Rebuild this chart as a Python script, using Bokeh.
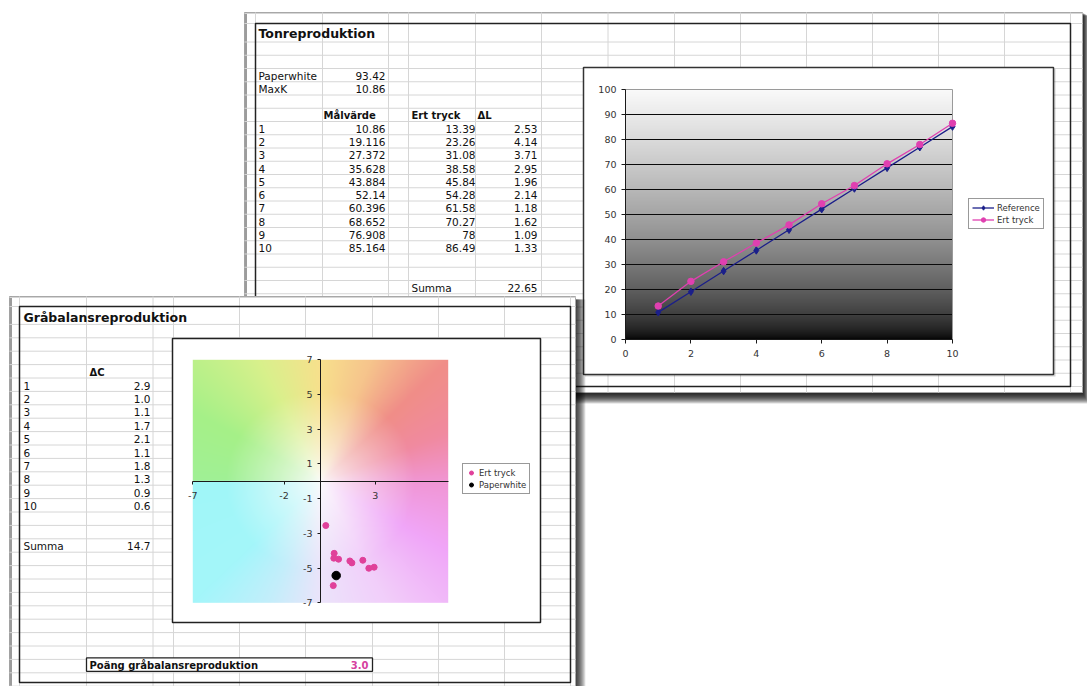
import numpy as np
from bokeh.plotting import figure
from bokeh.models import (Range1d, LinearAxis, FixedTicker, Legend, LegendItem,
                          ColumnDataSource, PrintfTickFormatter)
from bokeh.core.properties import value
from bokeh.embed import file_html
from bokeh.resources import INLINE

W, H = 1087, 686
FONT = "DejaVu Sans"

# ---------------- data ----------------
tone_steps = [1, 2, 3, 4, 5, 6, 7, 8, 9, 10]
malvarde = [10.86, 19.116, 27.372, 35.628, 43.884, 52.14, 60.396, 68.652, 76.908, 85.164]
ert_tryck = [13.39, 23.26, 31.08, 38.58, 45.84, 54.28, 61.58, 70.27, 78, 86.49]
delta_l = [2.53, 4.14, 3.71, 2.95, 1.96, 2.14, 1.18, 1.62, 1.09, 1.33]
paperwhite_l = 93.42
max_k = 10.86
summa_delta_l = 22.65

delta_c = [2.9, 1.0, 1.1, 1.7, 2.1, 1.1, 1.8, 1.3, 0.9, 0.6]
summa_delta_c = 14.7
poang_gra = 3.0

# a*/b* of the printed grey steps and of the paper
ert_a = [0.29, 0.73, 1.61, 2.32, 2.94, 1.72, 2.65, 0.75, 0.99, 0.70]
ert_b = [-2.55, -4.43, -4.59, -4.55, -4.95, -4.70, -5.01, -4.15, -4.49, -6.01]
paper_a = [0.86]
paper_b = [-5.43]

tone_x_ticks = [0, 2, 4, 6, 8, 10]
tone_y_ticks = [0, 10, 20, 30, 40, 50, 60, 70, 80, 90, 100]
gray_x_ticks = [-7, -2, 3]
gray_y_ticks = [-7, -5, -3, -1, 1, 3, 5, 7]

# ---------------- page geometry (pixels, y downward) ----------------
TONE_SHEET = (244, 1082, 12, 392)
TONE_BORDER = (255, 1070, 23, 386)
TONE_COLS = [255, 322, 388, 408, 475, 541, 607.5, 674, 740, 806, 872, 938, 1004, 1070]
TONE_ROW0, TONE_RH = 121.0, 13.25
TONE_BOX = (583, 1053, 67, 374)
TONE_PX = (625, 952)      # x pixels of x = 0 and x = 10
TONE_PY = (339, 89)       # y pixels of y = 0 and y = 100

GRAY_SHEET = (9, 575, 296, 690)
GRAY_BORDER = (19, 570, 306, 682)
GRAY_COLS = [19, 86, 152.5, 173, 239, 305, 372, 438, 504, 570]
GRAY_ROW0, GRAY_RH = 377.5, 13.4
GRAY_BOX = (172, 540, 338, 622)
GRAY_PX = (192.3, 447.7)  # x pixels of a = -7 and a = 7
GRAY_PY = (602.3, 359.3)  # y pixels of b = -7 and b = 7


def x_range_for(p0, p1, d0, d1):
    k = (d1 - d0) / (p1 - p0)
    return Range1d(start=d0 - p0 * k, end=d0 + (W - p0) * k)


def y_range_for(p0, p1, d0, d1):
    k = (d1 - d0) / (p1 - p0)
    return Range1d(start=d0 + (H - p0) * k, end=d0 - p0 * k)


p = figure(width=W, height=H, x_range=Range1d(0, W), y_range=Range1d(H, 0),
           x_axis_type=None, y_axis_type=None, toolbar_location=None,
           output_backend="svg", min_border=0, outline_line_color=None,
           background_fill_color="white", border_fill_color="white", title=None)
p.extra_x_ranges = {"tx": x_range_for(TONE_PX[0], TONE_PX[1], 0, 10),
                    "gx": x_range_for(GRAY_PX[0], GRAY_PX[1], -7, 7)}
p.extra_y_ranges = {"ty": y_range_for(TONE_PY[0], TONE_PY[1], 0, 100),
                    "gy": y_range_for(GRAY_PY[0], GRAY_PY[1], -7, 7)}


def put_text(xs, ys, texts, size="10.5px", bold=False, align="left", color="#111"):
    src = ColumnDataSource(dict(x=list(xs), y=list(ys), t=list(texts)))
    p.text(x="x", y="y", text="t", source=src, text_font=value(FONT),
           text_font_size=value(size), text_font_style="bold" if bold else "normal",
           text_align=align, text_baseline="middle", text_color=color)


def drop_shadow(x0, x1, y0, y1, depth, alpha, dx=0.7, dy=1.0):
    ls, rs, ts, bs = [], [], [], []
    for i in range(1, depth + 1):
        ls.append(x0 + i * 0.3)
        rs.append(x1 + i * dx)
        ts.append(y0 + i * 0.3)
        bs.append(y1 + i * dy)
    p.quad(left=ls, right=rs, top=ts, bottom=bs, fill_color="black",
           fill_alpha=alpha, line_color=None)


def sheet(rect, border, cols, hlines):
    x0, x1, y0, y1 = rect
    p.quad(left=x0, right=x1, top=y0, bottom=y1, fill_color="white",
           line_color="#a8a8a8", line_width=1)
    p.quad(left=x0, right=x0 + 2.5, top=y0, bottom=y1, fill_color="#9c9c9c",
           line_color=None)
    p.segment(x0=[x0] * len(hlines), x1=[x1] * len(hlines), y0=hlines, y1=hlines,
              line_color="#d6d6d6", line_width=1)
    p.segment(x0=cols, x1=cols, y0=[y0] * len(cols), y1=[y1] * len(cols),
              line_color="#d6d6d6", line_width=1)
    bx0, bx1, by0, by1 = border
    p.quad(left=bx0, right=bx1, top=by0, bottom=by1, fill_color=None,
           line_color="#222", line_width=1.5)


def row_mid(row0, rh, k):
    return row0 + rh * k + rh / 2 + 0.8


# ================= Tonreproduktion sheet (behind) =================
drop_shadow(*TONE_SHEET, depth=11, alpha=0.15, dx=0.55, dy=1.0)
tone_hlines = [13, 23] + [TONE_ROW0 + TONE_RH * k for k in range(-6, 21)
                          if TONE_ROW0 + TONE_RH * k < TONE_SHEET[3]]
sheet(TONE_SHEET, TONE_BORDER, TONE_COLS, tone_hlines)

put_text([258], [32.5], ["Tonreproduktion"], size="12.5px", bold=True)
put_text([258, 258], [row_mid(TONE_ROW0, TONE_RH, -4), row_mid(TONE_ROW0, TONE_RH, -3)],
         ["Paperwhite", "MaxK"])
put_text([385, 385], [row_mid(TONE_ROW0, TONE_RH, -4), row_mid(TONE_ROW0, TONE_RH, -3)],
         ["{:g}".format(paperwhite_l), "{:g}".format(max_k)], align="right")
hy = row_mid(TONE_ROW0, TONE_RH, -1)
put_text([323, 411, 477], [hy] * 3, ["Målvärde", "Ert tryck", "ΔL"], size="10px", bold=True)
ry = [row_mid(TONE_ROW0, TONE_RH, k) for k in range(len(tone_steps))]
put_text([258] * 10, ry, [str(s) for s in tone_steps])
put_text([385] * 10, ry, ["{:g}".format(v) for v in malvarde], align="right")
put_text([475] * 10, ry, ["{:g}".format(v) for v in ert_tryck], align="right")
put_text([537] * 10, ry, ["{:g}".format(v) for v in delta_l], align="right")
sy = row_mid(TONE_ROW0, TONE_RH, 12)
put_text([411], [sy], ["Summa"])
put_text([537], [sy], ["{:g}".format(summa_delta_l)], align="right")

# chart box
bx0, bx1, by0, by1 = TONE_BOX
p.quad(left=bx0 + 1.5, right=bx1 + 2, top=by0 + 1.5, bottom=by1 + 2,
       fill_color="black", fill_alpha=0.18, line_color=None)
p.quad(left=bx0, right=bx1, top=by0, bottom=by1, fill_color="white",
       line_color="#333", line_width=1.5)

# grey ramp behind the plot area
n = 250
ramp = 250.0 * ((np.arange(n) + 0.5) / n) ** 0.6
tone_img = np.empty((n, 2), dtype=np.uint32)
view = tone_img.view(dtype=np.uint8).reshape((n, 2, 4))
for c in range(3):
    view[:, :, c] = ramp.astype(np.uint8)[:, None]
view[:, :, 3] = 255
xlo, xhi = tone_x_ticks[0], tone_x_ticks[-1]
ylo, yhi = tone_y_ticks[0], tone_y_ticks[-1]
p.image_rgba(image=[tone_img], x=xlo, y=ylo, dw=xhi - xlo, dh=yhi - ylo,
             x_range_name="tx", y_range_name="ty")
inner = tone_y_ticks[1:-1]
p.segment(x0=[xlo] * len(inner), x1=[xhi] * len(inner), y0=inner, y1=inner,
          line_color="#0a0a0a", line_width=1, x_range_name="tx", y_range_name="ty")
p.quad(left=xlo, right=xhi, bottom=ylo, top=yhi, fill_color=None, line_color="#9a9a9a",
       line_width=1, x_range_name="tx", y_range_name="ty")

REF_COLOR = "#1b1f8a"
ERT_COLOR = "#e040b0"
ref_line = p.line(tone_steps, malvarde, line_color=REF_COLOR, line_width=1.3,
                  x_range_name="tx", y_range_name="ty")
ref_pts = p.scatter(tone_steps, malvarde, marker="diamond", size=7.5, fill_color=REF_COLOR,
                    line_color=REF_COLOR, x_range_name="tx", y_range_name="ty")
ert_line = p.line(tone_steps, ert_tryck, line_color=ERT_COLOR, line_width=1.3,
                  x_range_name="tx", y_range_name="ty")
ert_pts = p.scatter(tone_steps, ert_tryck, marker="circle", size=6.5, fill_color=ERT_COLOR,
                    line_color=ERT_COLOR, x_range_name="tx", y_range_name="ty")

# ================= Gråbalansreproduktion sheet (front) =================
gx0, gx1, gy0, gy1 = GRAY_SHEET
p.quad(left=[gx1 + i * 0.9 for i in range(12)], right=[gx1] * 12,
       top=[gy0 + 3] * 12, bottom=[H] * 12, fill_color="black", fill_alpha=0.11,
       line_color=None)
gray_hlines = [297, 306] + [GRAY_ROW0 + GRAY_RH * k for k in range(-4, 24)
                            if GRAY_ROW0 + GRAY_RH * k < H]
sheet(GRAY_SHEET, GRAY_BORDER, GRAY_COLS, gray_hlines)

put_text([23], [317], ["Gråbalansreproduktion"], size="12.5px", bold=True)
put_text([89], [row_mid(GRAY_ROW0, GRAY_RH, -1)], ["ΔC"], size="10px", bold=True)
gry = [row_mid(GRAY_ROW0, GRAY_RH, k) for k in range(len(tone_steps))]
put_text([23] * 10, gry, [str(s) for s in tone_steps])
put_text([150] * 10, gry, ["{:.1f}".format(v) for v in delta_c], align="right")
gsy = row_mid(GRAY_ROW0, GRAY_RH, 12)
put_text([23], [gsy], ["Summa"])
put_text([150], [gsy], ["{:.1f}".format(summa_delta_c)], align="right")

py0 = GRAY_ROW0 + GRAY_RH * 21 - 1.5
p.quad(left=86, right=372, top=py0, bottom=py0 + GRAY_RH, fill_color="white",
       line_color="#222", line_width=1.3)
put_text([89], [py0 + GRAY_RH / 2 + 0.8], ["Poäng gråbalansreproduktion"], size="10px", bold=True)
put_text([368], [py0 + GRAY_RH / 2 + 0.8], ["{:.1f}".format(poang_gra)], size="10px",
         bold=True, align="right", color="#d6409f")

# chart box
cx0, cx1, cy0, cy1 = GRAY_BOX
p.quad(left=cx0, right=cx1, top=cy0, bottom=cy1, fill_color="white",
       line_color="#222", line_width=1.5)

# a*/b* colour plane behind the scatter
HUE_STOPS = [(-180, (160, 246, 248)), (-135, (164, 246, 250)), (-112, (196, 238, 250)),
             (-90, (236, 228, 250)), (-62, (242, 206, 250)), (-30, (240, 166, 248)),
             (0, (240, 150, 212)), (22, (240, 138, 160)), (45, (240, 142, 136)),
             (68, (246, 196, 140)), (90, (248, 224, 140)), (115, (218, 240, 140)),
             (150, (166, 240, 136)), (180, (160, 240, 150))]
na, nb = 256, 244
ga = np.linspace(gray_y_ticks[0], gray_y_ticks[-1], na)
gb = np.linspace(gray_y_ticks[0], gray_y_ticks[-1], nb)
A, B = np.meshgrid(ga, gb)
ang = np.degrees(np.arctan2(B, A))
t = (np.clip(np.hypot(A, B) / 5.2, 0, 1) ** 0.8)[..., None]
pos = [s[0] for s in HUE_STOPS]
hue = np.stack([np.interp(ang, pos, [s[1][c] for s in HUE_STOPS]) for c in range(3)], axis=-1)
rgb = 252.0 * (1 - t) + hue * t
plane = np.empty((nb, na), dtype=np.uint32)
pv = plane.view(dtype=np.uint8).reshape((nb, na, 4))
pv[..., :3] = np.clip(rgb, 0, 255).astype(np.uint8)
pv[..., 3] = 255
lim = gray_y_ticks[-1]
p.image_rgba(image=[plane], x=-lim, y=-lim, dw=2 * lim, dh=2 * lim,
             x_range_name="gx", y_range_name="gy")

PINK = "#e0409a"
ert_sc = p.scatter(ert_a, ert_b, marker="circle", size=6, fill_color=PINK, line_color=PINK,
                   x_range_name="gx", y_range_name="gy")
pw_sc = p.scatter(paper_a, paper_b, marker="circle", size=8.5, fill_color="black",
                  line_color="black", x_range_name="gx", y_range_name="gy")


# ================= axes =================
def add_axis(side, xr, yr, loc, bounds, ticks, standoff, tick_out):
    ax = LinearAxis(x_range_name=xr, y_range_name=yr, fixed_location=loc, bounds=bounds,
                    ticker=FixedTicker(ticks=ticks, minor_ticks=[]),
                    formatter=PrintfTickFormatter(format="%d"))
    ax.axis_line_color = "#1a1a1a"
    ax.axis_line_width = 1
    ax.major_tick_line_color = "#1a1a1a"
    ax.major_tick_out = tick_out
    ax.major_tick_in = 0
    ax.minor_tick_line_color = None
    ax.major_label_text_font = FONT
    ax.major_label_text_font_size = "9.5px"
    ax.major_label_text_color = "#333"
    ax.major_label_standoff = standoff
    p.add_layout(ax, side)


add_axis("below", "tx", "ty", 0, (0, 10), tone_x_ticks, 6, 4)
add_axis("left", "tx", "ty", 0, (0, 100), tone_y_ticks, 5, 4)
add_axis("below", "gx", "gy", 0, (-7, 7), gray_x_ticks, 8, 3)
add_axis("left", "gx", "gy", 0, (-7, 7), gray_y_ticks, 5, 3)


# ================= legends =================
def legend(items, left, bottom, glyph_w):
    lg = Legend(items=items, location=(left, H - bottom), orientation="vertical",
                border_line_color="#333", border_line_width=1,
                background_fill_color="white", background_fill_alpha=1.0,
                padding=3, spacing=1, margin=0, glyph_width=glyph_w, glyph_height=11,
                label_height=11, label_standoff=3, label_text_font=FONT,
                label_text_font_size="8.5px", label_text_color="#333")
    p.add_layout(lg)


legend([LegendItem(label="Reference", renderers=[ref_line, ref_pts]),
        LegendItem(label="Ert tryck", renderers=[ert_line, ert_pts])], 968, 229, 22)
legend([LegendItem(label="Ert tryck", renderers=[ert_sc]),
        LegendItem(label="Paperwhite", renderers=[pw_sc])], 462, 494, 10)

open("out.html", "w").write(file_html(p, INLINE))
